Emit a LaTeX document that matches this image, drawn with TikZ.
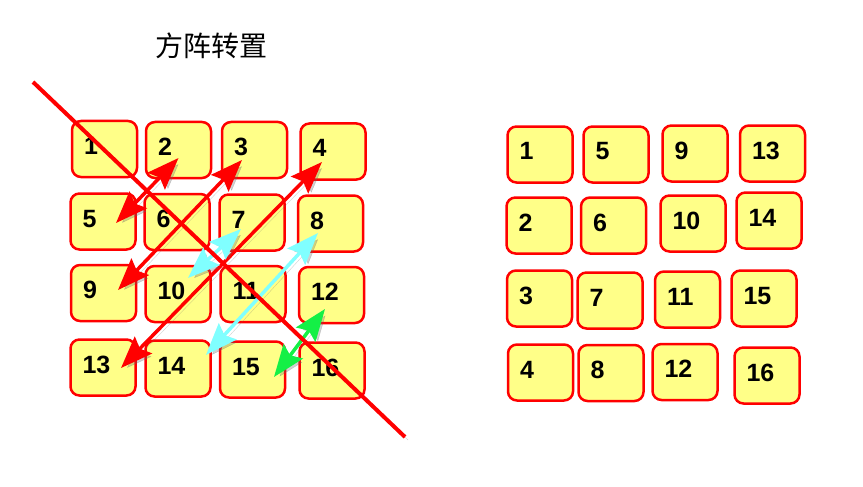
\documentclass[tikz,border=0pt]{standalone}
\usepackage{fontspec}
\setmainfont{Liberation Sans}
\newfontfamily\cjk{Noto Sans CJK SC}
\usepackage{tikz}
\usetikzlibrary{arrows.meta}
\definecolor{cellfill}{RGB}{255,255,136}
\definecolor{swapcyan}{RGB}{128,255,255}
\definecolor{swapgreen}{RGB}{20,240,70}

\tikzset{
  cell/.style={draw=red,line width=2.5pt,fill=cellfill,rounded corners=9pt,
    minimum width=65pt,minimum height=56pt,inner xsep=12pt,inner ysep=0pt,
    text width=41pt,align=left,text height=18pt,text depth=7pt,
    font=\bfseries\fontsize{25}{25}\selectfont},
  shade line/.style={preaction={draw=black!60,opacity=0.3,
    transform canvas={shift={(3pt,-3pt)}}}},
  swap/.style={line width=3.5pt,<->,shade line},
}

\begin{document}
\begin{tikzpicture}[x=1pt,y=-1pt,>={Stealth[length=32pt,width=24pt,inset=5pt]}]
  \useasboundingbox (0,0) rectangle (863,487);
  \node (title) at (211,46) {\cjk\fontsize{28}{28}\selectfont 方阵转置};
  % original matrix
  \foreach \n/\x/\y in {1/104.5/149,2/178.5/150,3/254.5/150,4/333/151.5,
                        5/103/221.5,6/177/222,7/252/222.5,8/330.5/223.5,
                        9/103.5/293,10/178/294,11/253/294,12/331.5/295,
                        13/103/367.5,14/178/368.5,15/252.5/369.5,16/332/370.5}{
    \node[cell] (a\n) at (\x,\y) {\n};
  }
  % transposed matrix
  \foreach \n/\x/\y in {1/540/154.5,5/616/154.5,9/695/153.5,13/772.5/153.5,
                        2/539/225.5,6/613.5/225.5,10/693/223.5,14/769/220.5,
                        3/539.5/298.5,7/610/300.5,11/687.5/299.5,15/764/298.5,
                        4/540.5/372.5,8/611/373,12/685/372,16/767/375.5}{
    \node[cell] (b\n) at (\x,\y) {\n};
  }
  % swaps across the diagonal
  \draw[swap,red] ([shift={(0,8)}]a2.center) -- ([shift={(13,1.5)}]a5.center);
  \draw[swap,red] ([shift={(-12.5,10)}]a3.center) -- ([shift={(14.5,-3)}]a9.center);
  \draw[swap,red] ([shift={(-11,10.5)}]a4.center) -- ([shift={(18,0.5)}]a13.center);
  \draw[swap,swapcyan] ([shift={(-11,6.5)}]a7.center) -- ([shift={(10,-16)}]a10.center);
  \draw[swap,swapcyan] ([shift={(-12.5,9.5)}]a8.center) -- ([shift={(28,-13.5)}]a14.center);
  \draw[swap,swapgreen] ([shift={(-6.5,14)}]a12.center) -- ([shift={(21.5,7.5)}]a15.center);
  % main diagonal
  \coordinate (d1) at (33,82);
  \coordinate (d2) at (405,437);
  \draw[red,line width=4pt,shade line] (d1) -- (d2);
\end{tikzpicture}
\end{document}
